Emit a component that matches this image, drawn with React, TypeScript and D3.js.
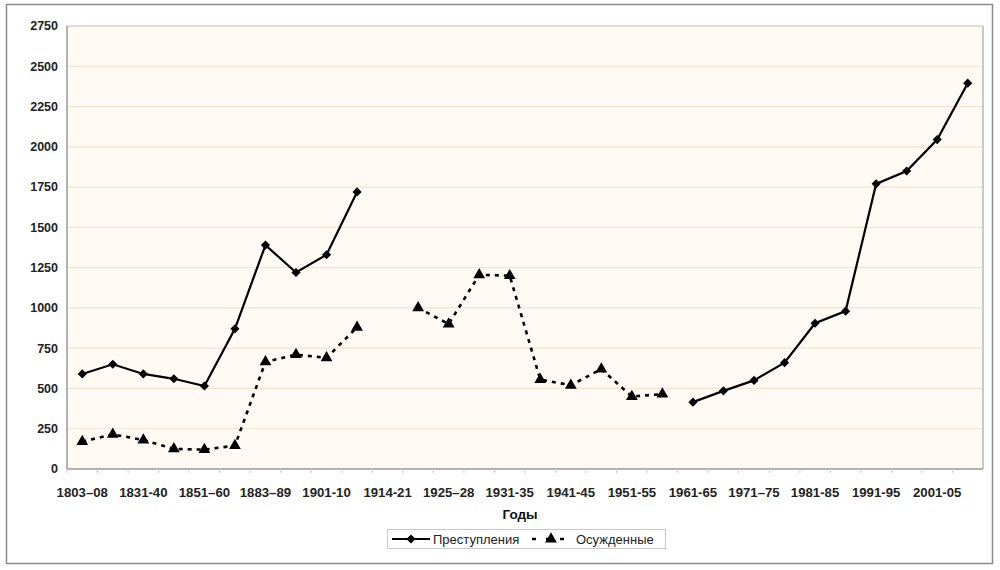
import React from "react";
import * as d3 from "d3";

const categories: string[] = [
  "1803–08", "1819–25", "1831-40", "1841-50", "1851–60", "1874-82",
  "1883–89", "1890-1900", "1901-10", "1911-13", "1914-21", "1922-24",
  "1925–28", "1929-30", "1931-35", "1936-40", "1941-45", "1946-50",
  "1951-55", "1956-60", "1961-65", "1966-70", "1971–75", "1976-80",
  "1981-85", "1986-90", "1991-95", "1996-2000", "2001-05", "2006-07",
];

const crimes: (number | null)[] = [
  590, 650, 590, 560, 515, 870, 1390, 1220, 1330, 1720,
  null, null, null, null, null, null, null, null, null, null,
  415, 485, 550, 660, 905, 980, 1770, 1850, 2045, 2395,
];

const convicted: (number | null)[] = [
  170, 215, 180, 125, 120, 145, 665, 710, 690, 880,
  null, 1000, 900, 1205, 1200, 555, 520, 620, 450, 465,
  null, null, null, null, null, null, null, null, null, null,
];

const yTicks: number[] = [0, 250, 500, 750, 1000, 1250, 1500, 1750, 2000, 2250, 2500, 2750];
const seriesNames: string[] = ["Преступления", "Осужденные"];
const xTitle = "Годы";

const W = 1000;
const H = 570;
const plot = { left: 67, right: 983, top: 26, bottom: 469 };
const FONT = "'Liberation Sans', Arial, sans-serif";

export default function App() {
  const x = d3
    .scaleBand<string>()
    .domain(categories)
    .range([plot.left, plot.right])
    .padding(0);
  const cx = (i: number) => (x(categories[i]) as number) + x.bandwidth() / 2;
  const y = d3.scaleLinear().domain([0, 2750]).range([plot.bottom, plot.top]);

  const line = d3
    .line<number | null>()
    .defined((d) => d !== null)
    .x((_, i) => cx(i))
    .y((d) => y(d as number));

  const diamond = d3.symbol().type(d3.symbolSquare).size(42)();
  const triangle = d3.symbol().type(d3.symbolTriangle).size(60)();

  const legendY = 539;

  return (
    <svg
      width={W}
      height={H}
      style={{ position: "absolute", left: 0, top: 0, display: "block", background: "#fff" }}
      fontFamily={FONT}
    >
      <rect x={6.5} y={4.5} width={986} height={559} fill="#fff" stroke="#8a8a8a" strokeWidth={1.5} />
      <rect
        x={plot.left}
        y={plot.top}
        width={plot.right - plot.left}
        height={plot.bottom - plot.top}
        fill="#fffbf4"
      />
      {yTicks.slice(1).map((t) => (
        <line
          key={t}
          x1={plot.left}
          x2={plot.right}
          y1={y(t)}
          y2={y(t)}
          stroke="#f1e2d4"
          strokeWidth={1.2}
        />
      ))}
      <line x1={plot.left} x2={plot.right} y1={plot.top} y2={plot.top} stroke="#c8c8c8" strokeWidth={1.2} />
      <line x1={plot.right} x2={plot.right} y1={plot.top} y2={plot.bottom} stroke="#b8b8b8" strokeWidth={1.5} />
      <line x1={plot.left} x2={plot.left} y1={plot.top} y2={plot.bottom} stroke="#999" strokeWidth={1.5} />
      <line x1={plot.left} x2={plot.right} y1={plot.bottom} y2={plot.bottom} stroke="#999" strokeWidth={1.5} />
      {categories.map((c, i) => (
        <line
          key={"tk" + i}
          x1={x(c) as number}
          x2={x(c) as number}
          y1={plot.bottom}
          y2={plot.bottom + 4}
          stroke="#ccc"
          strokeWidth={1}
        />
      ))}
      {yTicks.map((t) => (
        <text
          key={"yl" + t}
          x={58}
          y={y(t)}
          dy="0.35em"
          textAnchor="end"
          fontSize={12.5}
          fontWeight="bold"
          fill="#222"
        >
          {t}
        </text>
      ))}
      {categories.map((c, i) =>
        i % 2 === 0 ? (
          <text
            key={"xl" + i}
            x={cx(i)}
            y={492}
            dy="0.35em"
            textAnchor="middle"
            fontSize={13.2}
            fontWeight="bold"
            fill="#222"
          >
            {c}
          </text>
        ) : null
      )}
      <text x={520} y={514} dy="0.35em" textAnchor="middle" fontSize={13.5} fontWeight="bold" fill="#111">
        {xTitle}
      </text>

      <path d={line(crimes) || ""} fill="none" stroke="#000" strokeWidth={2.2} />
      <path
        d={line(convicted) || ""}
        fill="none"
        stroke="#000"
        strokeWidth={2.6}
        strokeDasharray="4,5"
      />
      {crimes.map((v, i) =>
        v === null ? null : (
          <path key={"cd" + i} d={diamond} transform={`translate(${cx(i)},${y(v)}) rotate(45)`} fill="#000" />
        )
      )}
      {convicted.map((v, i) =>
        v === null ? null : (
          <path key={"vt" + i} d={triangle} transform={`translate(${cx(i)},${y(v)})`} fill="#000" />
        )
      )}

      <rect x={387.5} y={529.5} width={278} height={19} fill="#fff" stroke="#c8c8c8" strokeWidth={1} />
      <line x1={392} x2={430} y1={legendY} y2={legendY} stroke="#000" strokeWidth={2.2} />
      <path d={diamond} transform={`translate(411,${legendY}) rotate(45)`} fill="#000" />
      <text x={433} y={legendY} dy="0.35em" fontSize={13} fill="#222">
        {seriesNames[0]}
      </text>
      <line
        x1={531}
        x2={571}
        y1={legendY}
        y2={legendY}
        stroke="#000"
        strokeWidth={2.6}
        strokeDasharray="4,10"
        strokeDashoffset={-1}
      />
      <path d={triangle} transform={`translate(551,${legendY})`} fill="#000" />
      <text x={576} y={legendY} dy="0.35em" fontSize={13} fill="#222">
        {seriesNames[1]}
      </text>
    </svg>
  );
}
